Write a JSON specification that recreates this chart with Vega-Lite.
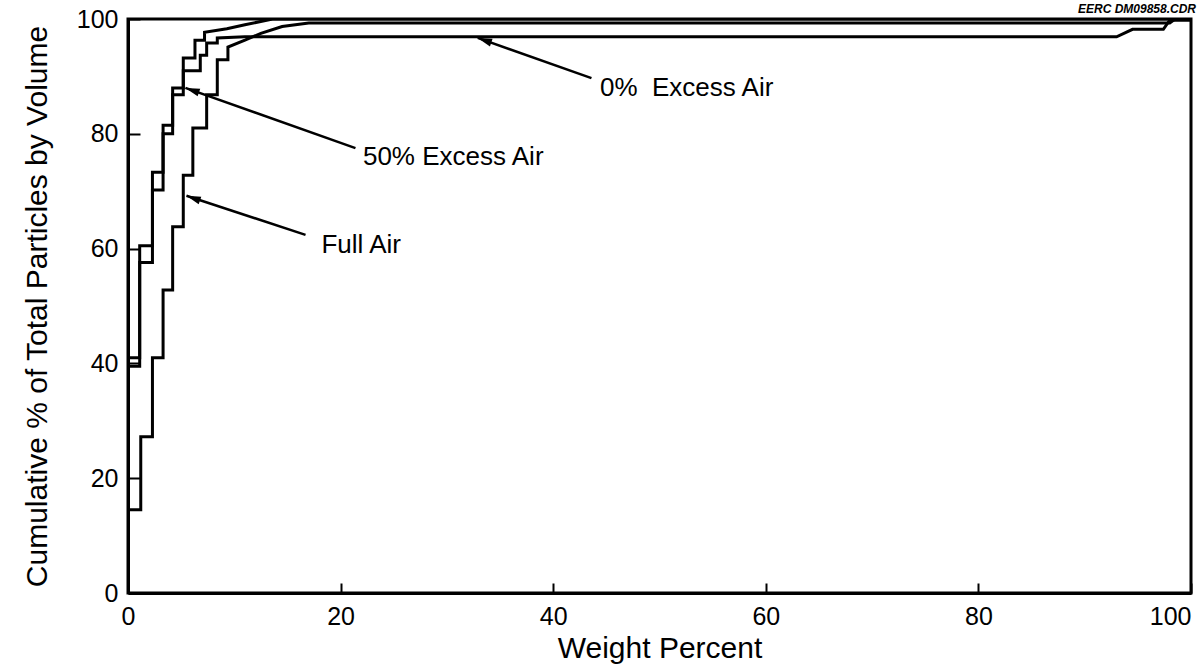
{
  "$schema": "https://vega.github.io/schema/vega-lite/v6.json",
  "width": 1063,
  "height": 574,
  "autosize": "none",
  "padding": {"left": 128, "top": 19, "right": 13, "bottom": 74},
  "background": "white",
  "config": {
    "font": "Liberation Sans",
    "view": {"stroke": "black", "strokeWidth": 3},
    "axis": {
      "grid": false,
      "domainColor": "black",
      "domainWidth": 3,
      "tickColor": "black",
      "tickWidth": 2,
      "labelColor": "black",
      "titleColor": "black",
      "labelFont": "Liberation Sans",
      "titleFont": "Liberation Sans",
      "labelFontSize": 25,
      "titleFontSize": 30,
      "titleFontWeight": "normal"
    }
  },
  "title": {
    "text": "EERC DM09858.CDR",
    "anchor": "end",
    "frame": "group",
    "fontStyle": "italic",
    "fontWeight": "bold",
    "fontSize": 12,
    "offset": 3,
    "dy": 12,
    "dx": 5,
    "font": "Liberation Sans",
    "color": "black"
  },
  "datasets": {
    "curves": [
      {"s": "Full Air", "i": 1, "x": 0, "y": 0},
      {"s": "Full Air", "i": 2, "x": 0, "y": 14.5},
      {"s": "Full Air", "i": 3, "x": 1.2, "y": 14.5},
      {"s": "Full Air", "i": 4, "x": 1.2, "y": 27.2},
      {"s": "Full Air", "i": 5, "x": 2.3, "y": 27.2},
      {"s": "Full Air", "i": 6, "x": 2.3, "y": 41},
      {"s": "Full Air", "i": 7, "x": 3.3, "y": 41},
      {"s": "Full Air", "i": 8, "x": 3.3, "y": 52.8},
      {"s": "Full Air", "i": 9, "x": 4.2, "y": 52.8},
      {"s": "Full Air", "i": 10, "x": 4.2, "y": 63.8},
      {"s": "Full Air", "i": 11, "x": 5.2, "y": 63.8},
      {"s": "Full Air", "i": 12, "x": 5.2, "y": 72.8},
      {"s": "Full Air", "i": 13, "x": 6.1, "y": 72.8},
      {"s": "Full Air", "i": 14, "x": 6.1, "y": 81},
      {"s": "Full Air", "i": 15, "x": 7.4, "y": 81},
      {"s": "Full Air", "i": 16, "x": 7.4, "y": 86.8},
      {"s": "Full Air", "i": 17, "x": 8.4, "y": 86.8},
      {"s": "Full Air", "i": 18, "x": 8.4, "y": 92.9},
      {"s": "Full Air", "i": 19, "x": 9.4, "y": 92.9},
      {"s": "Full Air", "i": 20, "x": 9.4, "y": 95.1},
      {"s": "Full Air", "i": 21, "x": 11, "y": 96.3},
      {"s": "Full Air", "i": 22, "x": 12.5, "y": 97.5},
      {"s": "Full Air", "i": 23, "x": 14.5, "y": 98.7},
      {"s": "Full Air", "i": 24, "x": 17, "y": 99.3},
      {"s": "Full Air", "i": 25, "x": 98, "y": 99.3},
      {"s": "Full Air", "i": 26, "x": 98.5, "y": 100},
      {"s": "Full Air", "i": 27, "x": 100, "y": 100},
      {"s": "50% Excess Air", "i": 1, "x": 0, "y": 0},
      {"s": "50% Excess Air", "i": 2, "x": 0, "y": 41},
      {"s": "50% Excess Air", "i": 3, "x": 1.1, "y": 41},
      {"s": "50% Excess Air", "i": 4, "x": 1.1, "y": 60.5},
      {"s": "50% Excess Air", "i": 5, "x": 2.3, "y": 60.5},
      {"s": "50% Excess Air", "i": 6, "x": 2.3, "y": 73.3},
      {"s": "50% Excess Air", "i": 7, "x": 3.3, "y": 73.3},
      {"s": "50% Excess Air", "i": 8, "x": 3.3, "y": 81.5},
      {"s": "50% Excess Air", "i": 9, "x": 4.2, "y": 81.5},
      {"s": "50% Excess Air", "i": 10, "x": 4.2, "y": 88},
      {"s": "50% Excess Air", "i": 11, "x": 5.2, "y": 88},
      {"s": "50% Excess Air", "i": 12, "x": 5.2, "y": 93.2},
      {"s": "50% Excess Air", "i": 13, "x": 6.3, "y": 93.2},
      {"s": "50% Excess Air", "i": 14, "x": 6.3, "y": 96.3},
      {"s": "50% Excess Air", "i": 15, "x": 7.2, "y": 96.3},
      {"s": "50% Excess Air", "i": 16, "x": 7.2, "y": 97.7},
      {"s": "50% Excess Air", "i": 17, "x": 9.3, "y": 98.3},
      {"s": "50% Excess Air", "i": 18, "x": 11, "y": 99},
      {"s": "50% Excess Air", "i": 19, "x": 13.6, "y": 100},
      {"s": "50% Excess Air", "i": 20, "x": 100, "y": 100},
      {"s": "0% Excess Air", "i": 1, "x": 0, "y": 0},
      {"s": "0% Excess Air", "i": 2, "x": 0, "y": 39.5},
      {"s": "0% Excess Air", "i": 3, "x": 1.1, "y": 39.5},
      {"s": "0% Excess Air", "i": 4, "x": 1.1, "y": 57.6},
      {"s": "0% Excess Air", "i": 5, "x": 2.3, "y": 57.6},
      {"s": "0% Excess Air", "i": 6, "x": 2.3, "y": 70.2},
      {"s": "0% Excess Air", "i": 7, "x": 3.3, "y": 70.2},
      {"s": "0% Excess Air", "i": 8, "x": 3.3, "y": 80},
      {"s": "0% Excess Air", "i": 9, "x": 4.2, "y": 80},
      {"s": "0% Excess Air", "i": 10, "x": 4.2, "y": 86.8},
      {"s": "0% Excess Air", "i": 11, "x": 5.2, "y": 86.8},
      {"s": "0% Excess Air", "i": 12, "x": 5.2, "y": 91},
      {"s": "0% Excess Air", "i": 13, "x": 6.8, "y": 91},
      {"s": "0% Excess Air", "i": 14, "x": 6.8, "y": 93.7},
      {"s": "0% Excess Air", "i": 15, "x": 7.4, "y": 93.7},
      {"s": "0% Excess Air", "i": 16, "x": 7.4, "y": 95.8},
      {"s": "0% Excess Air", "i": 17, "x": 8.4, "y": 95.8},
      {"s": "0% Excess Air", "i": 18, "x": 8.4, "y": 96.7},
      {"s": "0% Excess Air", "i": 19, "x": 11, "y": 96.9},
      {"s": "0% Excess Air", "i": 20, "x": 93, "y": 96.9},
      {"s": "0% Excess Air", "i": 21, "x": 94.5, "y": 98.2},
      {"s": "0% Excess Air", "i": 22, "x": 97.4, "y": 98.2},
      {"s": "0% Excess Air", "i": 23, "x": 98, "y": 99.8},
      {"s": "0% Excess Air", "i": 24, "x": 100, "y": 99.8}
    ],
    "labels": [
      {"label": "0% \u00a0Excess Air", "x": 44.4, "y": 88, "x2": 43.6, "y2": 89.7, "tx": 32.9, "ty": 96.7},
      {"label": "50% Excess Air", "x": 22.1, "y": 76, "x2": 21.4, "y2": 77.5, "tx": 5.4, "ty": 88},
      {"label": "Full Air", "x": 18.2, "y": 60.6, "x2": 16.7, "y2": 62.4, "tx": 5.5, "ty": 69.2}
    ]
  },
  "layer": [
    {
      "data": {"name": "curves"},
      "mark": {"type": "line", "color": "black", "strokeWidth": 3, "clip": true},
      "encoding": {
        "x": {"field": "x", "type": "quantitative", "scale": {"domain": [0, 100], "nice": false},
          "axis": {"title": "Weight Percent", "values": [0, 20, 40, 60, 80, 100], "tickSize": -10, "labelPadding": 21, "titlePadding": 4,
            "labelAlign": {"condition": {"test": "datum.value == 100", "value": "right"}, "value": "center"}}},
        "y": {"field": "y", "type": "quantitative", "scale": {"domain": [0, 100], "nice": false},
          "axis": {"title": "Cumulative % of Total Particles by Volume", "values": [0, 20, 40, 60, 80, 100], "tickSize": -12, "labelPadding": 22, "titlePadding": 24}},
        "detail": {"field": "s", "type": "nominal"},
        "order": {"field": "i", "type": "quantitative"}
      }
    },
    {
      "data": {"name": "labels"},
      "mark": {"type": "rule", "color": "black", "strokeWidth": 2.5},
      "encoding": {
        "x": {"field": "x2", "type": "quantitative"},
        "y": {"field": "y2", "type": "quantitative"},
        "x2": {"field": "tx"},
        "y2": {"field": "ty"}
      }
    },
    {
      "data": {"name": "labels"},
      "mark": {"type": "point", "shape": "M0,0L-0.45,1.6L0.45,1.6Z", "filled": true, "color": "black", "opacity": 1, "size": 320, "angle": 289},
      "encoding": {
        "x": {"field": "tx", "type": "quantitative"},
        "y": {"field": "ty", "type": "quantitative"}
      }
    },
    {
      "data": {"name": "labels"},
      "mark": {"type": "text", "align": "left", "baseline": "middle", "fontSize": 26, "font": "Liberation Sans", "color": "black"},
      "encoding": {
        "x": {"field": "x", "type": "quantitative"},
        "y": {"field": "y", "type": "quantitative"},
        "text": {"field": "label"}
      }
    }
  ]
}
